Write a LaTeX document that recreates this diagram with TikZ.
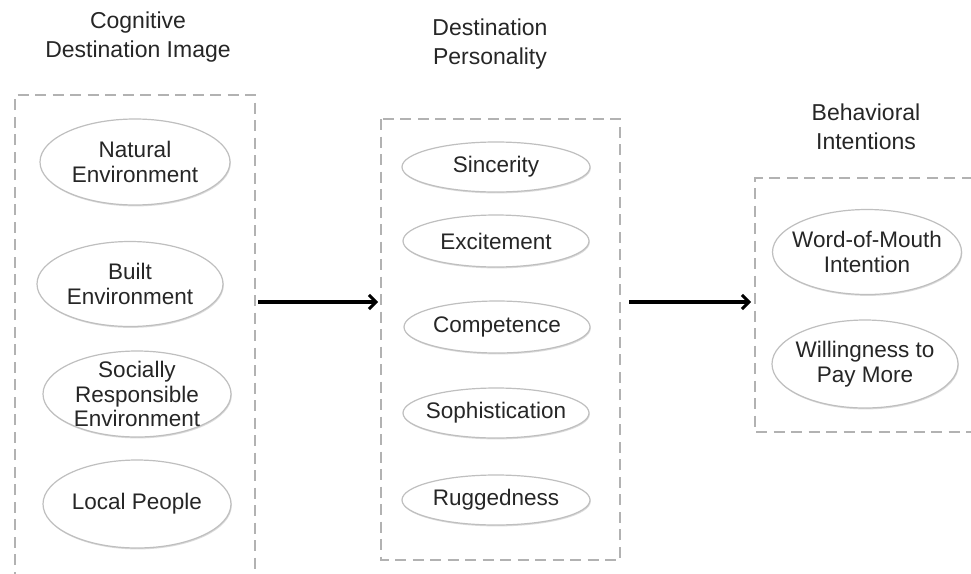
\documentclass[tikz,border=0pt]{standalone}
\usepackage{fontspec}
\setmainfont{Liberation Sans}
\usetikzlibrary{shapes.geometric,arrows.meta,shadows}
\begin{document}
\begin{tikzpicture}[x=1pt,y=-1pt,
  oval/.style={ellipse,draw=gray!50,line width=1.2pt,fill=white,inner xsep=-30pt,inner ysep=-10pt,align=center,
    font=\fontsize{22.5}{24.5}\selectfont,text=black!85,
    drop shadow={shadow xshift=0.8pt,shadow yshift=-1.4pt,fill=gray!35,opacity=0.8}},
  title/.style={align=center,font=\fontsize{23}{29}\selectfont,text=black!85},
  dbox/.style={draw=gray!60,line width=2.6pt,dash pattern=on 11pt off 6.5pt},
  flow/.style={-{Straight Barb[length=7pt,width=14pt,line width=3pt]},line width=3.2pt,black}]
\useasboundingbox (0,0) rectangle (971,573);
% titles
\node[title] (t1) at (138,37) {Cognitive\\Destination Image};
\node[title] (t2) at (490,44) {Destination\\Personality};
\node[title] (t3) at (866,127) {Behavioral\\Intentions};
% boxes
\draw[dbox] (15,600) -- (15,95) -- (255,95) -- (255,600);
\draw[dbox] (381,119) rectangle (620,560);
\draw[dbox] (990,178) -- (755,178) -- (755,432) -- (990,432);
% left ovals
\node[oval,minimum width=190pt,minimum height=86pt] (ne) at (135,162) {Natural\\Environment};
\node[oval,minimum width=186pt,minimum height=85pt] (be) at (130,284) {Built\\Environment};
\node[oval,minimum width=188pt,minimum height=86pt] (sr) at (137,394) {Socially\\Responsible\\Environment};
\node[oval,minimum width=188pt,minimum height=88pt] (lp) at (137,504) {Local People};
% middle ovals
\node[oval,minimum width=188pt,minimum height=50pt] (si) at (496,167) {Sincerity};
\node[oval,minimum width=186pt,minimum height=52pt] (ex) at (496,241) {Excitement};
\node[oval,minimum width=186pt,minimum height=52pt] (co) at (497,327) {Competence};
\node[oval,minimum width=186pt,minimum height=50pt] (so) at (496,413) {Sophistication};
\node[oval,minimum width=188pt,minimum height=50pt] (ru) at (496,500) {Ruggedness};
% right ovals
\node[oval,minimum width=189pt,minimum height=85pt] (wm) at (867,252) {Word-of-Mouth\\Intention};
\node[oval,minimum width=186pt,minimum height=88pt] (wp) at (865,364) {Willingness to\\Pay More};
% arrows
\coordinate (a1s) at (258,302);
\coordinate (a1e) at (378,302);
\coordinate (a2s) at (629,302);
\coordinate (a2e) at (751,302);
\draw[flow] (a1s) -- (a1e);
\draw[flow] (a2s) -- (a2e);
\end{tikzpicture}
\end{document}
